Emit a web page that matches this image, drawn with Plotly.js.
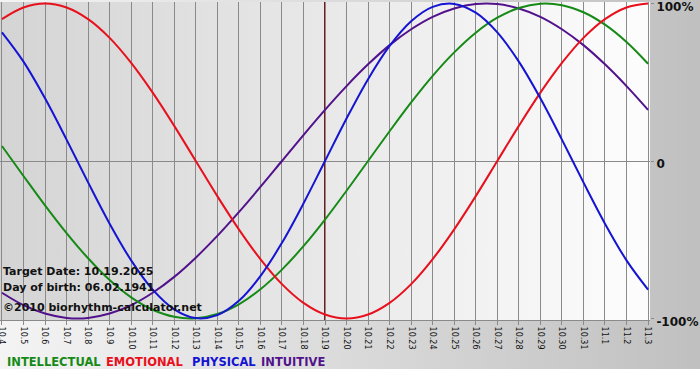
<!DOCTYPE html>
<html>
<head>
<meta charset="utf-8">
<script src="https://cdn.plot.ly/plotly-3.0.1.min.js"></script>
<style>html,body{margin:0;padding:0;background:#fff;}#chart{width:700px;height:380px;}</style>
</head>
<body>
<div id="chart"></div>
<script>
const dates = ["10.4","10.5","10.6","10.7","10.8","10.9","10.10","10.11","10.12","10.13","10.14","10.15","10.16","10.17","10.18","10.19","10.20","10.21","10.22","10.23","10.24","10.25","10.26","10.27","10.28","10.29","10.30","10.31","11.1","11.2","11.3"];
const physical = [81.7,63.1,39.8,13.6,-13.6,-39.8,-63.1,-81.7,-94.2,-99.8,-97.9,-88.8,-73.1,-52.0,-27.0,0,27.0,52.0,73.1,88.8,97.9,99.8,94.2,81.7,63.1,39.8,13.6,-13.6,-39.8,-63.1,-81.7];
const emotional = [90.1,97.5,100,97.5,90.1,78.2,62.3,43.4,22.3,0,-22.3,-43.4,-62.3,-78.2,-90.1,-97.5,-100,-97.5,-90.1,-78.2,-62.3,-43.4,-22.3,0,22.3,43.4,62.3,78.2,90.1,97.5,100];
const intellectual = [9.5,-9.5,-28.2,-45.8,-61.8,-75.6,-86.6,-94.5,-99.0,-99.9,-97.2,-91.0,-81.5,-69.0,-54.1,-37.2,-18.9,0,18.9,37.2,54.1,69.0,81.5,91.0,97.2,99.9,99.0,94.5,86.6,75.6,61.8];
const intuitive = [-83.7,-91.6,-96.9,-99.7,-99.7,-96.9,-91.6,-83.7,-73.6,-61.4,-47.6,-32.5,-16.5,0,16.5,32.5,47.6,61.4,73.6,83.7,91.6,96.9,99.7,99.7,96.9,91.6,83.7,73.6,61.4,47.6,32.5];
const targetDate = "10.19";
const infoLines = ["Target Date: 10.19.2025", "Day of birth: 06.02.1941", "©2010 biorhythm-calculator.net"];
const legendNames = ["INTELLECTUAL", "EMOTIONAL", "PHYSICAL", "INTUITIVE"];
const yTickVals = [-100, 0, 100];
const yTickText = ["-100%", "0", "100%"];

const colors = {INTELLECTUAL:"#168a16", EMOTIONAL:"#e8101c", PHYSICAL:"#1414d2", INTUITIVE:"#52128c"};
const idx = dates.map((d,i)=>i);

function svgUri(svg){ return "data:image/svg+xml;charset=utf-8," + encodeURIComponent(svg); }
function hgrad(c0, c1){
  return svgUri("<svg xmlns='http://www.w3.org/2000/svg' width='100' height='100' preserveAspectRatio='none'><defs><linearGradient id='g' x1='0' y1='0' x2='1' y2='0'><stop offset='0' stop-color='"+c0+"'/><stop offset='1' stop-color='"+c1+"'/></linearGradient></defs><rect width='100' height='100' fill='url(#g)'/></svg>");
}

const W = 700, H = 380, mL = 0, mR = 50, mT = 2, mB = 60;
const pw = W - mL - mR, ph = H - mT - mB;
const boldFont = "DejaVu Sans, Verdana, sans-serif";

function mk(name, y){
  return {x: idx, y: y, type:"scatter", mode:"lines", name: name,
    line:{color: colors[name], width:2, shape:"spline", smoothing:1}, hoverinfo:"skip"};
}
const traces = [
  mk("INTUITIVE", intuitive),
  mk("INTELLECTUAL", intellectual),
  mk("EMOTIONAL", emotional),
  mk("PHYSICAL", physical)
];

const infoY = [271, 287, 307];
const annotations = infoLines.map((t,i)=>({
  text: t, xref:"paper", yref:"paper", x: 1/pw, y: (mT+ph - infoY[i])/ph,
  xanchor:"left", yanchor:"middle", showarrow:false,
  font:{family: boldFont, size:11, weight:"bold", color:"#111"}
}));
const legendX = [5, 104, 190, 259];
legendNames.forEach((n,i)=>{
  annotations.push({text:n, xref:"paper", yref:"paper", x: legendX[i]/pw, y:(mT+ph-362)/ph,
    xanchor:"left", yanchor:"middle", showarrow:false,
    font:{family: boldFont, size:11.5, weight:"bold", color:colors[n]}});
});

const layout = {
  width: W, height: H,
  margin:{l:mL, r:mR, t:mT, b:mB, pad:0},
  paper_bgcolor:"#ffffff",
  plot_bgcolor:"rgba(0,0,0,0)",
  showlegend:false,
  xaxis:{
    range:[-0.09, 30.09], tickmode:"array", tickvals: idx, ticktext: dates,
    tickangle:90, tickfont:{family:"DejaVu Sans, sans-serif", size:8, color:"#111"},
    ticklabeloverflow:"allow",
    showgrid:true, gridcolor:"#8a8a8a", gridwidth:1,
    ticks:"outside", ticklen:4, tickcolor:"#8a8a8a",
    showline:true, linecolor:"#8a8a8a", linewidth:1,
    zeroline:false, fixedrange:true
  },
  yaxis:{
    range:[-101, 101], side:"right", tickmode:"array", tickvals:yTickVals, ticktext:yTickText,
    tickfont:{family: boldFont, size:12, weight:"bold", color:"#111"},
    ticklabeloverflow:"allow", ticklabelshift:3,
    showgrid:false, zeroline:true, zerolinecolor:"#8a8a8a", zerolinewidth:1,
    ticks:"outside", ticklen:3, tickcolor:"#8a8a8a",
    showline:false, fixedrange:true
  },
  images:[
    {source: hgrad("#f4f4f4","#c0c0c0"), xref:"paper", yref:"paper",
      x: -mL/pw, y: (ph+mT)/ph, sizex: W/pw, sizey: 369/ph,
      xanchor:"left", yanchor:"top", sizing:"stretch", layer:"below"},
    {source: hgrad("#d4d4d4","#fdfdfd"), xref:"paper", yref:"paper",
      x: 0, y: 1, sizex: 1, sizey: 1,
      xanchor:"left", yanchor:"top", sizing:"stretch", layer:"below"}
  ],
  shapes:[
    {type:"line", xref:"x", yref:"paper", x0: dates.indexOf(targetDate), x1: dates.indexOf(targetDate), y0:0, y1:1,
      line:{color:"#7a1a1a", width:2}, layer:"between"}
  ],
  annotations: annotations
};

Plotly.newPlot("chart", traces, layout, {displayModeBar:false, staticPlot:true});
</script>
</body>
</html>
